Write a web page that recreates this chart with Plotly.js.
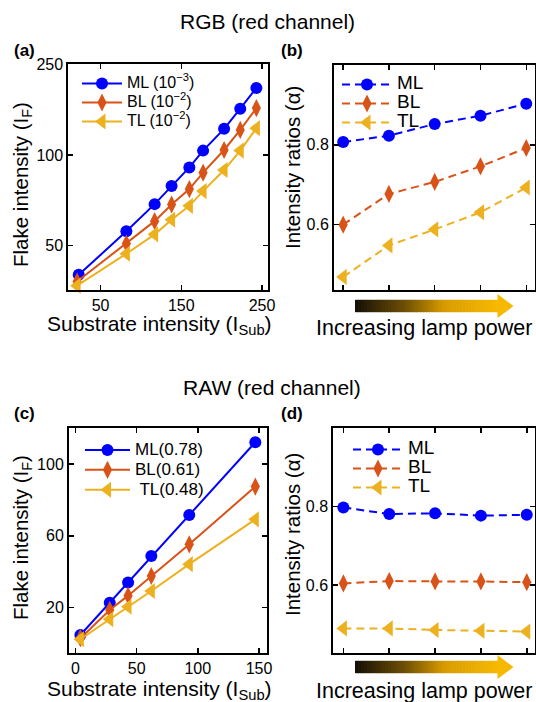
<!DOCTYPE html>
<html><head><meta charset="utf-8">
<script src="https://cdn.plot.ly/plotly-3.0.1.min.js"></script>
<style>html,body{margin:0;padding:0;background:#fff}#chart{width:536px;height:702px}</style>
</head><body><div id="chart"></div>
<script>
// ---- data ----
const seriesNames = ['ML', 'BL', 'TL'];
// (a) RGB: flake vs substrate intensity
const aML_x = [23, 82, 117, 138, 160, 177, 203, 223, 243];
const aML_y = [39.9, 55.7, 68.6, 78.9, 90.9, 103.4, 122.2, 142.6, 167.2];
const aBL_x = [21, 82, 117, 138, 160, 177, 203, 223, 243];
const aBL_y = [37.9, 50.7, 60.2, 68.4, 77.0, 87.3, 103.9, 121.2, 143.3];
const aTL_x = [21, 82, 117, 138, 160, 177, 203, 223, 243];
const aTL_y = [36.7, 46.9, 54.4, 60.9, 67.7, 75.8, 89.1, 103.4, 122.8];
const aLabels = ['ML (10<sup>\u22123</sup>)', 'BL (10<sup>\u22122</sup>)', 'TL (10<sup>\u22122</sup>)'];
const aYTickVals = [50, 100, 200];
const aYTickText = ['50', '100', '250'];
const aXTickVals = [50, 150, 250];
// (b) RGB intensity ratios vs lamp power step
const powerSteps = [1, 2, 3, 4, 5];
const bML = [0.807, 0.823, 0.852, 0.873, 0.903];
const bBL = [0.600, 0.677, 0.707, 0.746, 0.792];
const bTL = [0.469, 0.548, 0.588, 0.631, 0.693];
// (c) RAW: flake vs substrate intensity
const cX = [4, 28, 43, 62, 93, 147];
const cML = [4.5, 22.6, 33.8, 48.7, 71.6, 112.3];
const cBL = [2.7, 18.5, 26.5, 37.5, 55.2, 87.5];
const cTL = [2.1, 13.3, 20.3, 29.1, 44.1, 69.2];
const cLabels = ['ML(0.78)', 'BL(0.61)', ' TL(0.48)'];
const cXTickVals = [0, 50, 100, 150];
const cYTickVals = [20, 60, 100];
// (d) RAW intensity ratios vs lamp power step
const dML = [0.798, 0.781, 0.783, 0.777, 0.779];
const dBL = [0.604, 0.610, 0.609, 0.609, 0.607];
const dTL = [0.489, 0.489, 0.485, 0.483, 0.481];
const ratioTickVals = [0.6, 0.8];

// ---- styles ----
const W = 536, H = 702;
const PX = x => x / W, PY = y => 1 - y / H;
const FONT = 'Liberation Sans, Arial, Helvetica, sans-serif';
const colors = ['#0000ff', '#d95319', '#edb120'];
const symbols = ['circle', 'diamond-tall', 'triangle-left'];
const msize = [12, 13, 14];

function big(t, s) { return '<span style="font-size:' + s + 'px">' + t + '</span>'; }

function tr(x, y, i, name, xa, ya, leg, dashed) {
  return {
    x: x, y: y, name: name, type: 'scatter', mode: 'lines+markers',
    xaxis: xa, yaxis: ya, legend: leg,
    line: {color: colors[i], width: 2, dash: dashed ? '8px,5px' : 'solid'},
    marker: {color: colors[i], symbol: symbols[i], size: msize[i], line: {width: 0}},
    cliponaxis: false
  };
}
const data = [
  tr(aML_x, aML_y, 0, big(aLabels[0], 16), 'x', 'y', 'legend', false),
  tr(aBL_x, aBL_y, 1, big(aLabels[1], 16), 'x', 'y', 'legend', false),
  tr(aTL_x, aTL_y, 2, big(aLabels[2], 16), 'x', 'y', 'legend', false),
  tr(powerSteps, bML, 0, big(seriesNames[0], 19), 'x2', 'y2', 'legend2', true),
  tr(powerSteps, bBL, 1, big(seriesNames[1], 19), 'x2', 'y2', 'legend2', true),
  tr(powerSteps, bTL, 2, big(seriesNames[2], 19), 'x2', 'y2', 'legend2', true),
  tr(cX, cML, 0, big(cLabels[0], 17), 'x3', 'y3', 'legend3', false),
  tr(cX, cBL, 1, big(cLabels[1], 17), 'x3', 'y3', 'legend3', false),
  tr(cX, cTL, 2, big(cLabels[2], 17), 'x3', 'y3', 'legend3', false),
  tr(powerSteps, dML, 0, big(seriesNames[0], 19), 'x4', 'y4', 'legend4', true),
  tr(powerSteps, dBL, 1, big(seriesNames[1], 19), 'x4', 'y4', 'legend4', true),
  tr(powerSteps, dTL, 2, big(seriesNames[2], 19), 'x4', 'y4', 'legend4', true)
];

function ax(extra) {
  return Object.assign({
    showline: true, linewidth: 2, linecolor: '#000', mirror: 'ticks',
    ticks: 'inside', ticklen: 5, tickwidth: 1.5, tickcolor: '#000',
    showgrid: false, zeroline: false, fixedrange: true,
    tickfont: {family: FONT, size: 16, color: '#000'}
  }, extra);
}

function legendAt(xpx, ypx, size, iw) {
  return {x: PX(xpx), y: PY(ypx), xanchor: 'left', yanchor: 'top',
    bgcolor: 'rgba(0,0,0,0)', borderwidth: 0, itemwidth: iw,
    font: {family: FONT, size: size, color: '#000'}, tracegroupgap: 0};
}

// gradient arrow (decoration)
function arrowShapes(x0, x1, xt, yc, hb, hh) {
  const stops = [[0, [20, 14, 6]], [0.35, [110, 80, 5]], [0.62, [215, 155, 0]], [1, [247, 185, 0]]];
  function col(t) {
    for (let k = 0; k < stops.length - 1; k++) {
      const [t0, c0] = stops[k], [t1, c1] = stops[k + 1];
      if (t <= t1) {
        const f = (t - t0) / (t1 - t0);
        return 'rgb(' + c0.map((c, j) => Math.round(c + (c1[j] - c) * f)).join(',') + ')';
      }
    }
    return 'rgb(247,185,0)';
  }
  const n = 48, out = [];
  for (let k = 0; k < n; k++) {
    const a = x0 + (x1 - x0) * k / n, b = x0 + (x1 - x0) * (k + 1) / n + 0.6;
    out.push({type: 'rect', xref: 'paper', yref: 'paper', x0: PX(a), x1: PX(b),
      y0: PY(yc + hb), y1: PY(yc - hb), fillcolor: col((k + 0.5) / n), line: {width: 0}, layer: 'above'});
  }
  out.push({type: 'path', xref: 'paper', yref: 'paper',
    path: 'M' + PX(x1 - 0.5) + ',' + PY(yc - hh) + ' L' + PX(xt) + ',' + PY(yc) + ' L' + PX(x1 - 0.5) + ',' + PY(yc + hh) + ' Z',
    fillcolor: 'rgb(247,185,0)', line: {width: 0}, layer: 'above'});
  return out;
}

function txt(text, xpx, ypx, size, opts) {
  return Object.assign({text: text, x: PX(xpx), y: PY(ypx), xref: 'paper', yref: 'paper',
    showarrow: false, xanchor: 'center', yanchor: 'middle',
    font: {family: FONT, size: size, color: '#000'}}, opts || {});
}

const layout = {
  width: W, height: H, margin: {l: 0, r: 0, t: 0, b: 0},
  paper_bgcolor: '#fff', plot_bgcolor: '#fff', showlegend: true,
  font: {family: FONT, color: '#000'},
  xaxis: ax({domain: [PX(68.3), PX(267.7)], range: [10.1, 257], tickvals: aXTickVals, anchor: 'y'}),
  yaxis: ax({domain: [PY(289.5), PY(63.7)], type: 'log', range: [1.552, 2.304], tickvals: aYTickVals, ticktext: aYTickText, anchor: 'x'}),
  xaxis2: ax({domain: [PX(334), PX(534.5)], range: [0.8, 5.18], tickvals: powerSteps, showticklabels: false, anchor: 'y2'}),
  yaxis2: ax({domain: [PY(289.5), PY(65)], range: [0.4375, 1.0], tickvals: ratioTickVals, tickformat: '.1f', anchor: 'x2'}),
  xaxis3: ax({domain: [PX(69), PX(266.7)], range: [-5.3, 156.3], tickvals: cXTickVals, anchor: 'y3'}),
  yaxis3: ax({domain: [PY(652.7), PY(428.3)], range: [-5.4, 120.1], tickvals: cYTickVals, anchor: 'x3'}),
  xaxis4: ax({domain: [PX(333.3), PX(535)], range: [0.78, 5.18], tickvals: powerSteps, showticklabels: false, anchor: 'y4'}),
  yaxis4: ax({domain: [PY(652.7), PY(428.3)], range: [0.427, 1.0], tickvals: ratioTickVals, tickformat: '.1f', anchor: 'x4'}),
  legend: legendAt(77, 69, 11, 40),
  legend2: legendAt(337, 70, 11, 50),
  legend3: legendAt(80, 435, 13, 45),
  legend4: legendAt(348, 435, 12, 50),
  shapes: [].concat(arrowShapes(355, 498, 513.5, 306, 6.2, 12), arrowShapes(355, 498, 513.5, 667, 6.2, 12)),
  annotations: [
    txt('RGB (red channel)', 267, 21, 21),
    txt('RAW (red channel)', 272, 387, 21),
    txt('<b>(a)</b>', 24, 50, 17),
    txt('<b>(b)</b>', 292, 50, 17),
    txt('<b>(c)</b>', 24, 413, 17),
    txt('<b>(d)</b>', 292, 413, 17),
    txt('Flake intensity (I<sub>F</sub>)', 22, 185, 20.5, {textangle: -90}),
    txt('Substrate intensity (I<sub>Sub</sub>)', 159, 325, 21),
    txt('Intensity ratios (\u03b1)', 292, 168, 20.5, {textangle: -90}),
    txt('Increasing lamp power', 424, 328, 21.5),
    txt('Flake intensity (I<sub>F</sub>)', 22, 538, 20.5, {textangle: -90}),
    txt('Substrate intensity (I<sub>Sub</sub>)', 159, 690, 21),
    txt('Intensity ratios (\u03b1)', 292, 535, 20.5, {textangle: -90}),
    txt('Increasing lamp power', 424, 691, 21.5)
  ]
};

Plotly.newPlot('chart', data, layout, {staticPlot: true, displayModeBar: false});
</script></body></html>
